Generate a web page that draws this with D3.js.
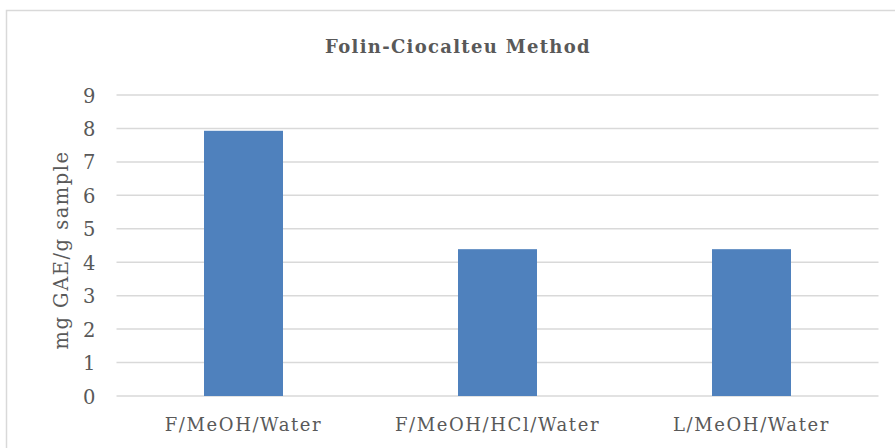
<!DOCTYPE html>
<html>
<head>
<meta charset="utf-8">
<script src="https://cdn.jsdelivr.net/npm/d3@7"></script>
<style>
  html, body { margin: 0; padding: 0; background: #fff; }
  svg text { font-family: "DejaVu Serif", "Liberation Serif", serif; fill: #595959; }
</style>
</head>
<body>
<svg id="chart" width="895" height="448"></svg>
<script>
// Total phenolic content by extraction solvent
const categories = ["F/MeOH/Water", "F/MeOH/HCl/Water", "L/MeOH/Water"];
const values = [7.93, 4.39, 4.39];
const yTicks = [0, 1, 2, 3, 4, 5, 6, 7, 8, 9];
const title = "Folin-Ciocalteu Method";
const yLabel = "mg GAE/g sample";

const svg = d3.select("#chart");
const plot = { left: 116.5, right: 878.5, top: 95, bottom: 396 };

// outer chart frame
svg.append("rect")
  .attr("x", 6.5).attr("y", 10.5)
  .attr("width", 920).attr("height", 460)
  .attr("fill", "#fff")
  .attr("stroke", "#d9d9d9").attr("stroke-width", 1.5);

const x = d3.scaleBand()
  .domain(categories)
  .range([plot.left, plot.right])
  .paddingInner(0.689)
  .paddingOuter(0.3445);

const y = d3.scaleLinear()
  .domain([0, 9])
  .range([plot.bottom, plot.top]);

// horizontal gridlines
svg.append("g")
  .selectAll("line")
  .data(yTicks)
  .join("line")
  .attr("x1", plot.left).attr("x2", plot.right)
  .attr("y1", d => y(d)).attr("y2", d => y(d))
  .attr("stroke", "#d9d9d9").attr("stroke-width", 1.5);

// y tick labels
const yAxis = d3.axisLeft(y).tickValues(yTicks).tickSize(0).tickPadding(0).tickFormat(d3.format("d"));
const gy = svg.append("g").attr("transform", `translate(${plot.left - 21},0)`).call(yAxis);
gy.select(".domain").remove();
gy.selectAll("text")
  .attr("font-size", 19.5)
  .attr("font-family", "DejaVu Serif")
  .attr("fill", "#595959")
  .attr("dy", "0.36em");

// bars
svg.append("g")
  .selectAll("rect")
  .data(categories)
  .join("rect")
  .attr("x", d => x(d))
  .attr("width", x.bandwidth())
  .attr("y", (d, i) => y(values[i]))
  .attr("height", (d, i) => y(0) - y(values[i]))
  .attr("fill", "#4f81bd");

// category labels
const xAxis = d3.axisBottom(x).tickSize(0).tickPadding(0);
const gx = svg.append("g").attr("transform", `translate(0,${plot.bottom + 35})`).call(xAxis);
gx.select(".domain").remove();
gx.selectAll("text")
  .attr("font-size", 18)
  .attr("font-family", "DejaVu Serif")
  .attr("fill", "#595959")
  .attr("letter-spacing", "1.6px")
  .attr("dy", 0);

// title
svg.append("text")
  .attr("x", 458).attr("y", 53)
  .attr("text-anchor", "middle")
  .attr("font-size", 18)
  .attr("font-weight", "bold")
  .attr("letter-spacing", "1.3px")
  .text(title);

// y axis title
svg.append("text")
  .attr("transform", `translate(68,250) rotate(-90)`)
  .attr("text-anchor", "middle")
  .attr("font-size", 19.5)
  .attr("letter-spacing", "1.5px")
  .text(yLabel);
</script>
</body>
</html>
